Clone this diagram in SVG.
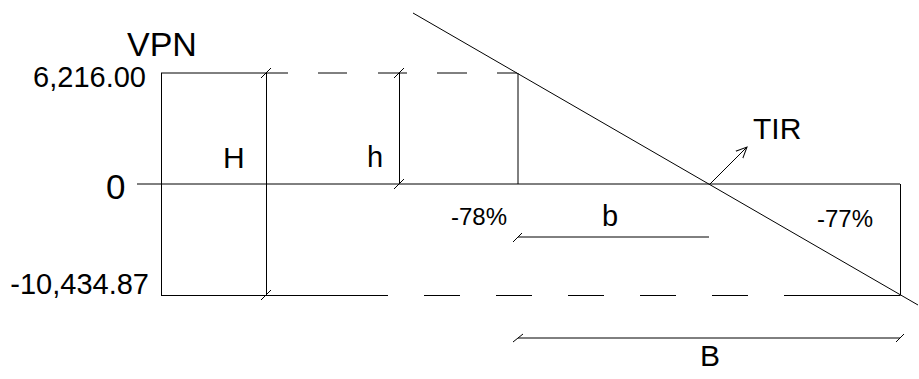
<svg xmlns="http://www.w3.org/2000/svg" width="919" height="379" viewBox="0 0 919 379">
<style>
.t{font-family:"Liberation Sans",Arial,sans-serif;fill:#000}
.ln{stroke:#000;stroke-width:1;fill:none}
.g{stroke:#000;stroke-width:1;fill:none}
</style>
<defs>
<marker id="arr" viewBox="0 0 12 12" refX="11" refY="6" markerWidth="12" markerHeight="12" markerUnits="userSpaceOnUse" orient="auto">
<path d="M0,1 L11,6 L0,11" fill="none" stroke="#000" stroke-width="1"/>
</marker>
</defs>
<rect width="919" height="379" fill="#fff"/>
<g id="connectors">
<!-- left frame -->
<line class="ln" x1="161.5" y1="73" x2="161.5" y2="295.5"/>
<!-- top line -->
<line class="g" x1="161" y1="73" x2="288" y2="73"/>
<path class="g" d="M318,73H347M378,73H407M437,73H467M497,73H517"/>
<!-- zero line -->
<line class="g" x1="137" y1="184" x2="900" y2="184"/>
<!-- bottom line -->
<line class="ln" x1="161" y1="295.5" x2="388" y2="295.5"/>
<path class="ln" d="M424,295.5H460M496,295.5H532M568,295.5H604M640,295.5H676M712,295.5H748M784,295.5H900"/>
<!-- right vertical -->
<line class="ln" x1="900.5" y1="184" x2="900.5" y2="295.5"/>
<!-- vertical at -78% -->
<line class="g" x1="518" y1="73" x2="518" y2="184"/>
<!-- H dimension -->
<line class="ln" x1="266.5" y1="73" x2="266.5" y2="295"/>
<line class="ln" x1="261" y1="78" x2="271" y2="68"/>
<line class="ln" x1="261" y1="300" x2="271" y2="290"/>
<!-- h dimension -->
<line class="ln" x1="399.5" y1="73" x2="399.5" y2="184"/>
<line class="ln" x1="394" y1="78" x2="404" y2="68"/>
<line class="ln" x1="394" y1="189" x2="404" y2="179"/>
<!-- diagonal -->
<line class="ln" x1="413" y1="13" x2="918" y2="305"/>
<!-- TIR arrow -->
<line class="ln" x1="710" y1="184" x2="747" y2="147" marker-end="url(#arr)"/>
<!-- b dimension -->
<line class="g" x1="518" y1="237" x2="709" y2="237"/>
<line class="ln" x1="513" y1="242" x2="522" y2="233"/>
<!-- B dimension -->
<line class="g" x1="518" y1="338" x2="900" y2="338"/>
<line class="ln" x1="513" y1="342" x2="523" y2="334"/>
<line class="ln" x1="896" y1="342" x2="904" y2="334"/>
</g>
<g id="labels">
<text class="t" x="127" y="56" font-size="34">VPN</text>
<text class="t" x="146" y="87" font-size="29" text-anchor="end">6,216.00</text>
<text class="t" x="149" y="294" font-size="29" text-anchor="end">-10,434.87</text>
<text class="t" x="106" y="199" font-size="35">0</text>
<text class="t" x="223" y="168" font-size="30">H</text>
<text class="t" x="367" y="167" font-size="29">h</text>
<text class="t" x="451" y="225" font-size="24">-78%</text>
<text class="t" x="602" y="226" font-size="29">b</text>
<text class="t" x="753" y="139" font-size="30">TIR</text>
<text class="t" x="817" y="227" font-size="24">-77%</text>
<text class="t" x="700" y="366" font-size="30">B</text>
</g>
</svg>
